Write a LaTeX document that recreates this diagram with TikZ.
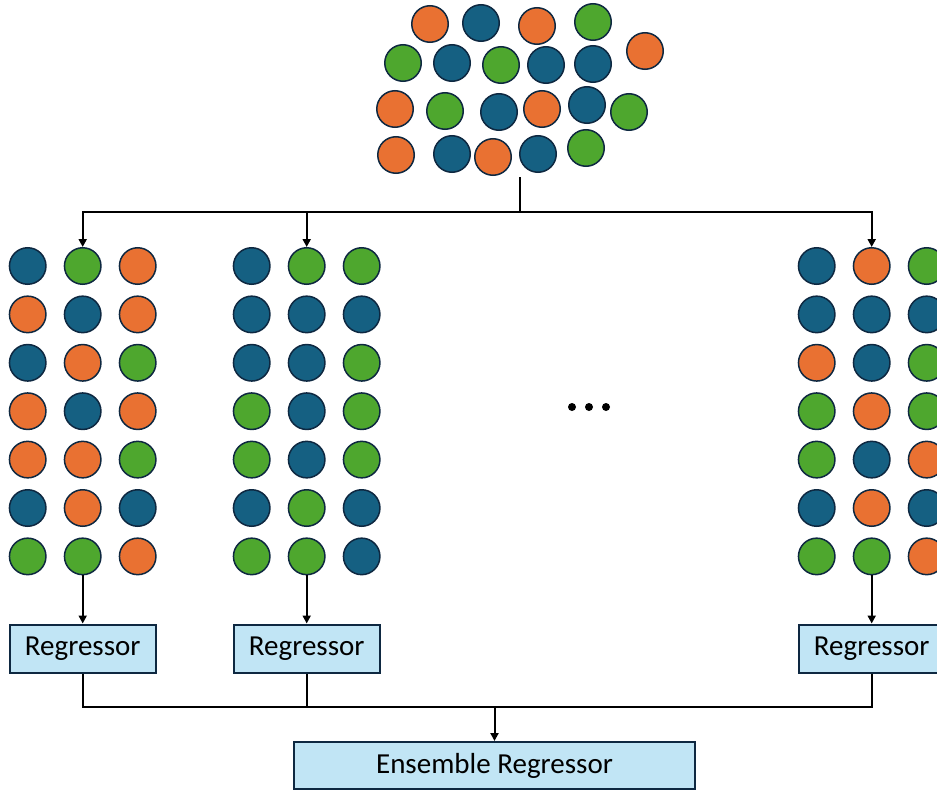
\documentclass[tikz,border=0pt]{standalone}
\usepackage{fontspec}
\setmainfont{Carlito}
\usetikzlibrary{arrows.meta}
\definecolor{corange}{HTML}{E97132}
\definecolor{cblue}{HTML}{156082}
\definecolor{cgreen}{HTML}{4EA72E}
\definecolor{cedge}{HTML}{0E2841}
\definecolor{boxfill}{HTML}{C1E5F5}
\tikzset{
  ball/.style={circle, draw=cedge, line width=1.5pt, minimum size=36.5pt, inner sep=0pt},
  O/.style={ball, fill=corange},
  B/.style={ball, fill=cblue},
  G/.style={ball, fill=cgreen},
  regbox/.style={draw=cedge, line width=2pt, fill=boxfill, minimum width=146pt, minimum height=48pt, inner sep=0pt, font=\fontsize{29}{32}\selectfont},
  wire/.style={line width=2pt, black},
  arrow/.style={wire, -{Triangle[length=8pt,width=8pt]}},
  dot/.style={circle, fill=black, minimum size=8pt, inner sep=0pt}
}
\begin{document}
\begin{tikzpicture}[x=1pt, y=-1pt]
\useasboundingbox (0,0) rectangle (937,792);

% the full data set
\node[O] (p1)  at (430,24) {};
\node[B] (p2)  at (481,23) {};
\node[O] (p3)  at (537,26) {};
\node[G] (p4)  at (593,22) {};
\node[O] (p5)  at (645,51) {};
\node[G] (p6)  at (403,63) {};
\node[B] (p7)  at (452,63) {};
\node[G] (p8)  at (501,65) {};
\node[B] (p9)  at (546,65) {};
\node[B] (p10) at (593,64) {};
\node[O] (p11) at (395,109) {};
\node[G] (p12) at (445,111) {};
\node[B] (p13) at (499,112) {};
\node[O] (p14) at (542,109) {};
\node[B] (p15) at (587,105) {};
\node[G] (p16) at (629,112) {};
\node[O] (p17) at (396,155) {};
\node[B] (p18) at (452,154) {};
\node[O] (p19) at (493,157) {};
\node[B] (p20) at (538,154) {};
\node[G] (p21) at (586,148) {};
\coordinate (src) at (520,177);

% bootstrap samples: one column list per style, rows top to bottom
\foreach \gx/\g/\cols in {
  27.7/a/{{B,G,O},{O,B,O},{B,O,G},{O,B,O},{O,O,G},{B,O,B},{G,G,O}},
  251.7/b/{{B,G,G},{B,B,B},{B,B,G},{G,B,G},{G,B,G},{B,G,B},{G,G,B}},
  816.7/c/{{B,O,G},{B,B,B},{O,B,G},{G,O,G},{G,B,O},{B,O,B},{G,G,O}}} {
  \foreach \row [count=\r] in \cols {
    \foreach \s [count=\c] in \row {
      \node[\s] (\g-\r-\c) at ({\gx+55*(\c-1)}, {266+48.4*(\r-1)}) {};
    }
  }
}

% ellipsis between the sample groups
\node[dot] (d1) at (572,407) {};
\node[dot] (d2) at (589,407) {};
\node[dot] (d3) at (606,407) {};

% base learners and the combined model
\node[regbox] (ra) at (82.7,648.5) {Regressor};
\node[regbox] (rb) at (306.7,648.5) {Regressor};
\node[regbox] (rc) at (871.7,648.5) {Regressor};
\node[regbox, minimum width=401pt, minimum height=47pt] (ens) at (494.5,765.5) {Ensemble Regressor};

% sampling connectors
\coordinate (split) at (520,212);
\draw[wire] (src) -- (split);
\draw[arrow] (split) -| (a-1-2.north);
\draw[arrow] (split) -| (b-1-2.north);
\draw[arrow] (split) -| (c-1-2.north);

% samples to regressors
\draw[arrow] (a-7-2.south) -- (ra.north);
\draw[arrow] (b-7-2.south) -- (rb.north);
\draw[arrow] (c-7-2.south) -- (rc.north);

% aggregation
\coordinate (join) at (494.5,707);
\draw[wire] (ra.south) |- (join);
\draw[wire] (rb.south) |- (join);
\draw[wire] (rc.south) |- (join);
\draw[arrow] (join) -- (ens.north);
\end{tikzpicture}
\end{document}
